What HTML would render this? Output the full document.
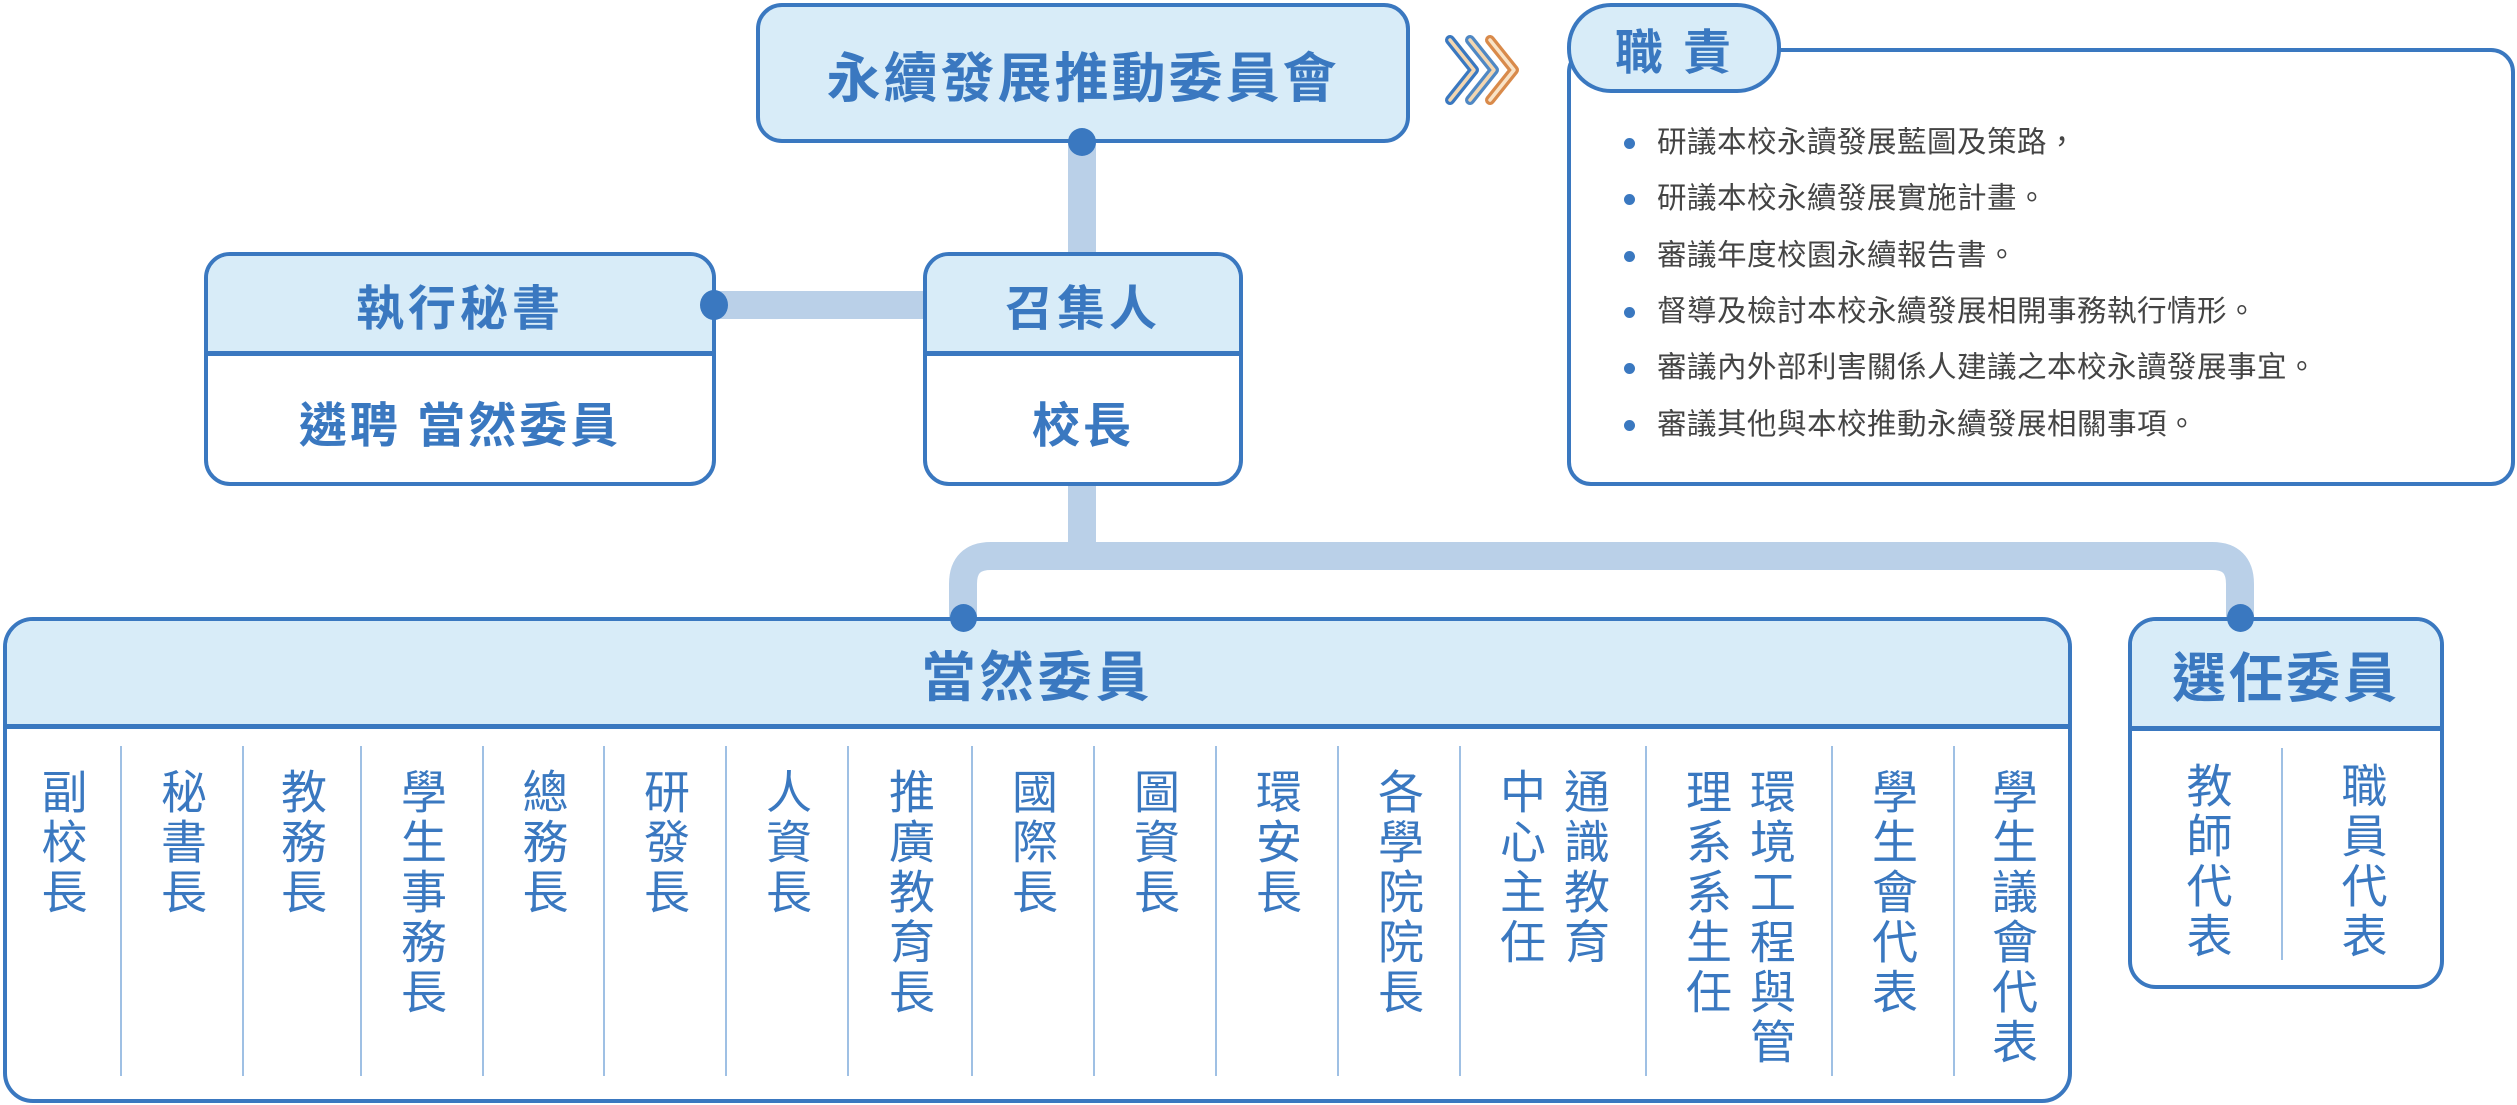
<!DOCTYPE html>
<html><head><meta charset="utf-8"><style>
*{margin:0;padding:0;box-sizing:border-box}
body{width:2517px;height:1105px;background:#fff;position:relative;overflow:hidden;font-family:"Liberation Sans","Noto Sans CJK TC",sans-serif;color:#3a78c0}
.a{position:absolute}
.box{position:absolute;border:4px solid #3a78c0;border-radius:26px;background:#fff;overflow:hidden}
.hd{position:absolute;left:0;right:0;top:0;background:#d8ecf8;border-bottom:5px solid #3a78c0;display:flex;align-items:center;justify-content:center;font-weight:bold}
.ct{position:absolute;display:flex;justify-content:center;font-weight:bold}
.col{position:absolute;top:768px;display:flex;justify-content:center}
.col span{writing-mode:vertical-rl;text-orientation:upright;font-size:46px;line-height:64px;letter-spacing:4px}
.dv{position:absolute;width:2px;background:#9fc0e4}
.li{position:absolute;left:1657px;font-size:29.5px;color:#444;line-height:40px;white-space:nowrap;letter-spacing:0.5px}
.bu{position:absolute;left:1624px;width:11px;height:11px;border-radius:50%;background:#3a78c0}
</style></head><body>
<svg class="a" style="left:0;top:0" width="2517" height="1105">
<path d="M1082 140 V260" stroke="#bad0e8" stroke-width="28" fill="none"/>
<path d="M714 305 H930" stroke="#bad0e8" stroke-width="28" fill="none"/>
<path d="M1082 485 V556" stroke="#bad0e8" stroke-width="28" fill="none"/>
<path d="M963 620 V584 Q963 556 991 556 H2212 Q2240 556 2240 584 V620" stroke="#bad0e8" stroke-width="28" fill="none"/>
<g fill="none" stroke-width="10" stroke-linejoin="round" stroke-linecap="round">
<path d="M1450 40 L1474 70 L1450 100" stroke="#3a78c0"/>
<path d="M1470 40 L1494 70 L1470 100" stroke="#4f88c4"/>
<path d="M1490 40 L1514 70 L1490 100" stroke="#d98a4a"/>
</g>
<g fill="none" stroke-width="3.5" stroke-linejoin="round" stroke-linecap="round">
<path d="M1450 40 L1474 70 L1450 100" stroke="#f3d6b0"/>
<path d="M1470 40 L1494 70 L1470 100" stroke="#f3d6b0"/>
<path d="M1490 40 L1514 70 L1490 100" stroke="#f8e3c8"/>
</g>
</svg>

<div class="box" style="left:756px;top:3px;width:654px;height:140px;background:#d8ecf8;display:flex;align-items:center;justify-content:center;font-weight:bold;font-size:54px;letter-spacing:3px">永續發展推動委員會</div>

<div class="box" style="left:1567px;top:48px;width:948px;height:438px;border-radius:24px"></div>
<div class="a" style="left:1567px;top:3px;width:214px;height:90px;background:#d8ecf8;border:4px solid #3a78c0;border-radius:44px;display:flex;align-items:center;justify-content:center;font-weight:bold;font-size:48px;letter-spacing:20px;padding-left:18px">職責</div>
<div class="bu" style="top:138px"></div><div class="li" style="top:123px">研議本校永讀發展藍圖及策路，</div>
<div class="bu" style="top:194px"></div><div class="li" style="top:179px">研議本校永續發展實施計畫。</div>
<div class="bu" style="top:251px"></div><div class="li" style="top:236px">審議年度校園永續報告書。</div>
<div class="bu" style="top:307px"></div><div class="li" style="top:292px">督導及檢討本校永續發展相開事務執行情形。</div>
<div class="bu" style="top:363px"></div><div class="li" style="top:348px">審議內外部利害關係人建議之本校永讀發展事宜。</div>
<div class="bu" style="top:420px"></div><div class="li" style="top:405px">審議其他與本校推動永續發展相關事項。</div>

<div class="box" style="left:204px;top:252px;width:512px;height:234px">
<div class="hd" style="height:100px;font-size:48px;letter-spacing:4px">執行秘書</div>
<div class="ct" style="left:0;right:0;top:130px;font-size:48px;letter-spacing:3px">遴聘 當然委員</div>
</div>
<div class="box" style="left:923px;top:252px;width:320px;height:234px">
<div class="hd" style="height:100px;font-size:48px;letter-spacing:4px">召集人</div>
<div class="ct" style="left:0;right:0;top:130px;font-size:48px;letter-spacing:3px">校長</div>
</div>

<div class="box" style="left:3px;top:617px;width:2069px;height:486px;border-radius:30px">
<div class="hd" style="height:108px;font-size:54px;letter-spacing:4px">當然委員</div>
</div>
<div class="box" style="left:2128px;top:617px;width:316px;height:372px;border-radius:28px">
<div class="hd" style="height:110px;font-size:54px;letter-spacing:3px">選任委員</div>
</div>

<div class="a" style="left:1068px;top:128px;width:28px;height:28px;border-radius:50%;background:#3a78c0"></div>
<div class="a" style="left:700px;top:290px;width:28px;height:30px;border-radius:50%;background:#3a78c0"></div>
<div class="a" style="left:950px;top:604px;width:27px;height:28px;border-radius:50%;background:#3a78c0"></div>
<div class="a" style="left:2227px;top:604px;width:27px;height:28px;border-radius:50%;background:#3a78c0"></div>

<div class="dv" style="left:120px;top:746px;height:330px"></div>
<div class="dv" style="left:242px;top:746px;height:330px"></div>
<div class="dv" style="left:360px;top:746px;height:330px"></div>
<div class="dv" style="left:482px;top:746px;height:330px"></div>
<div class="dv" style="left:603px;top:746px;height:330px"></div>
<div class="dv" style="left:725px;top:746px;height:330px"></div>
<div class="dv" style="left:847px;top:746px;height:330px"></div>
<div class="dv" style="left:971px;top:746px;height:330px"></div>
<div class="dv" style="left:1093px;top:746px;height:330px"></div>
<div class="dv" style="left:1215px;top:746px;height:330px"></div>
<div class="dv" style="left:1337px;top:746px;height:330px"></div>
<div class="dv" style="left:1459px;top:746px;height:330px"></div>
<div class="dv" style="left:1645px;top:746px;height:330px"></div>
<div class="dv" style="left:1831px;top:746px;height:330px"></div>
<div class="dv" style="left:1953px;top:746px;height:330px"></div>
<div class="dv" style="left:2281px;top:748px;height:212px"></div>

<div class="col" style="left:3px;width:117px"><span>副校長</span></div>
<div class="col" style="left:120px;width:122px"><span>秘書長</span></div>
<div class="col" style="left:242px;width:118px"><span>教務長</span></div>
<div class="col" style="left:360px;width:122px"><span>學生事務長</span></div>
<div class="col" style="left:482px;width:121px"><span>總務長</span></div>
<div class="col" style="left:603px;width:122px"><span>研發長</span></div>
<div class="col" style="left:725px;width:122px"><span>人資長</span></div>
<div class="col" style="left:847px;width:124px"><span>推廣教育長</span></div>
<div class="col" style="left:971px;width:122px"><span>國際長</span></div>
<div class="col" style="left:1093px;width:122px"><span>圖資長</span></div>
<div class="col" style="left:1215px;width:122px"><span>環安長</span></div>
<div class="col" style="left:1337px;width:122px"><span>各學院院長</span></div>
<div class="col" style="left:1459px;width:186px"><span>通識教育<br>中心主任</span></div>
<div class="col" style="left:1645px;width:186px"><span>環境工程與管<br>理系系生任</span></div>
<div class="col" style="left:1831px;width:122px"><span>學生會代表</span></div>
<div class="col" style="left:1953px;width:118px"><span>學生議會代表</span></div>
<div class="col" style="left:2132px;width:149px;top:762px"><span>教師代表</span></div>
<div class="col" style="left:2283px;width:157px;top:762px"><span>職員代表</span></div>
</body></html>
